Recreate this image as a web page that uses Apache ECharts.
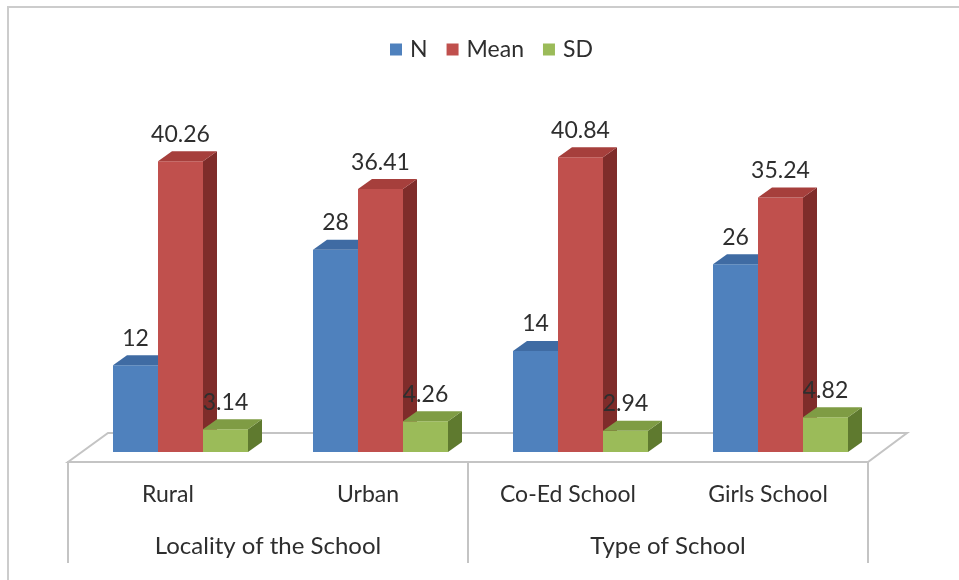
<!DOCTYPE html>
<html>
<head>
<meta charset="utf-8">
<style>
  html, body { margin: 0; padding: 0; background: #ffffff; }
  #chart { width: 959px; height: 580px; }
</style>
<script src="https://cdn.jsdelivr.net/npm/echarts@6/dist/echarts.min.js"></script>
</head>
<body>
<div id="chart"></div>
<script>
// School groups and the three statistics drawn for each of them
const categories = ['Rural', 'Urban', 'Co-Ed School', 'Girls School'];
const groups = ['Locality of the School', 'Type of School'];
const seriesNames = ['N', 'Mean', 'SD'];
const nValues = [12, 28, 14, 26];
const meanValues = [40.26, 36.41, 40.84, 35.24];
const sdValues = [3.14, 4.26, 2.94, 4.82];

const FONT = 'Lato, "Noto Sans", sans-serif';
const TEXT = '#2e2e2e';
const LINE = '#c4c4c4';

// front / top / side shades for each statistic
const palette = [
  { front: '#4f81bd', top: '#3f6ba3', side: '#365f91' },
  { front: '#c0504d', top: '#a63f3c', side: '#7f2c2a' },
  { front: '#9bbb59', top: '#7f9c44', side: '#5f7a2f' }
];

const DEPTH_X = 14, DEPTH_Y = -10;

// Draws one box-shaped bar: front face, side face, top face and the value above it
function renderBox(params, api) {
  const k = params.seriesIndex;
  const ci = api.value(0);
  const v = api.value(1);
  const base = api.coord([ci, 0]);
  const topPt = api.coord([ci, v]);
  const band = api.size([1, 0])[0];
  const bw = band * 0.225;
  const x = base[0] - band / 2 + band * 0.225 + k * bw;
  const yTop = topPt[1];
  const yBase = base[1];
  const c = palette[k];
  return {
    type: 'group',
    children: [
      {
        type: 'polygon',
        shape: { points: [[x + bw, yTop], [x + bw + DEPTH_X, yTop + DEPTH_Y], [x + bw + DEPTH_X, yBase + DEPTH_Y], [x + bw, yBase]] },
        style: { fill: c.side }
      },
      {
        type: 'rect',
        shape: { x: x, y: yTop, width: bw, height: yBase - yTop },
        style: { fill: c.front }
      },
      {
        type: 'polygon',
        shape: { points: [[x, yTop], [x + DEPTH_X, yTop + DEPTH_Y], [x + bw + DEPTH_X, yTop + DEPTH_Y], [x + bw, yTop]] },
        style: { fill: c.top }
      },
      {
        type: 'text',
        z2: 100,
        style: {
          text: String(v),
          x: x + bw / 2,
          y: yTop - 27,
          align: 'center',
          verticalAlign: 'middle',
          fill: TEXT,
          font: '23px ' + FONT
        }
      }
    ]
  };
}

const valueLists = [nValues, meanValues, sdValues];

const chart = echarts.init(document.getElementById('chart'), null, { renderer: 'canvas' });
chart.setOption({
  backgroundColor: '#ffffff',
  animation: false,
  legend: {
    data: seriesNames,
    left: 385,
    top: 33,
    icon: 'rect',
    itemWidth: 12,
    itemHeight: 12,
    itemGap: 19,
    textStyle: { fontFamily: FONT, fontSize: 23, color: TEXT, padding: [0, 0, 0, 3] }
  },
  grid: { left: 68, right: 91, top: 91, bottom: 128 },
  xAxis: [
    {
      type: 'category',
      data: categories,
      axisLine: { show: false },
      axisTick: { show: false },
      axisLabel: { margin: 31, fontFamily: FONT, fontSize: 23, color: TEXT, interval: 0 }
    },
    {
      type: 'category',
      data: groups,
      position: 'bottom',
      offset: 10,
      axisLine: { show: true, lineStyle: { color: LINE, width: 2 } },
      axisTick: { show: true, length: 101, interval: 0, lineStyle: { color: LINE, width: 2 } },
      axisLabel: { margin: 72, fontFamily: FONT, fontSize: 24, color: TEXT, interval: 0 }
    }
  ],
  yAxis: { type: 'value', min: 0, max: 50, show: false },
  graphic: [
    {
      type: 'rect',
      z: -10,
      shape: { x: 8, y: 7, width: 980, height: 600 },
      style: { fill: null, stroke: '#cccccc', lineWidth: 2 }
    },
    {
      type: 'polygon',
      z: -5,
      shape: { points: [[68, 462], [108, 433], [907, 433], [868, 462]] },
      style: { fill: '#ffffff', stroke: LINE, lineWidth: 2 }
    }
  ],
  series: seriesNames.map((name, k) => ({
    name: name,
    type: 'custom',
    xAxisIndex: 0,
    itemStyle: { color: palette[k].front },
    renderItem: renderBox,
    encode: { x: 0, y: 1 },
    data: valueLists[k].map((v, i) => [i, v])
  }))
});
</script>
</body>
</html>
